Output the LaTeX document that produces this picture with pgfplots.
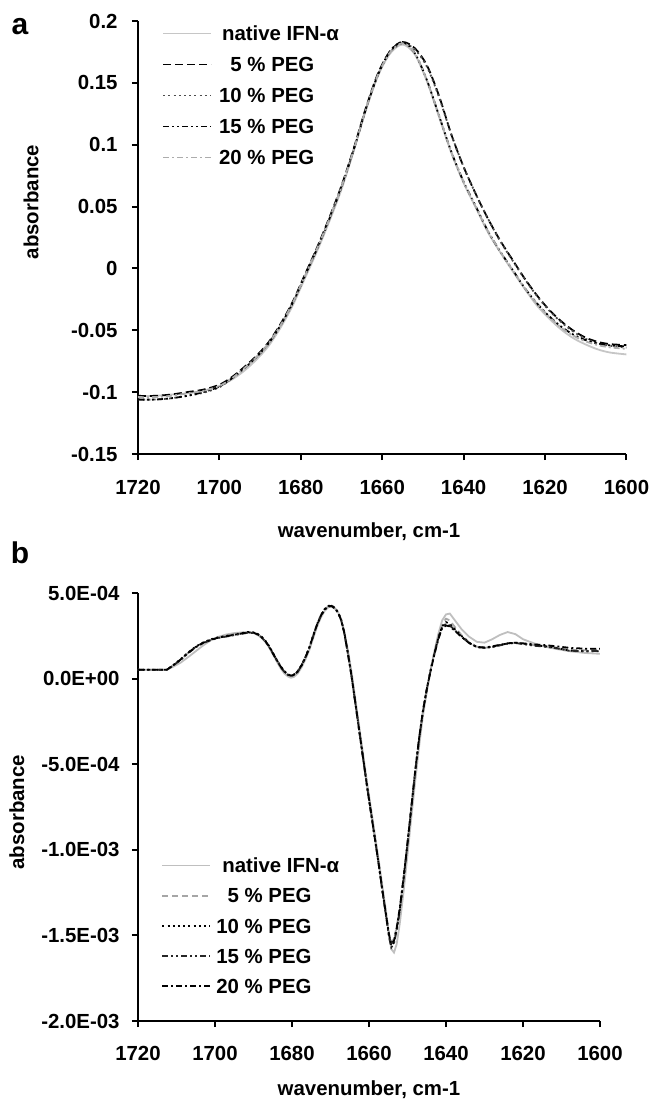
\documentclass[border=0pt]{standalone}
\usepackage{fontspec}
\setmainfont{Liberation Sans}
\usepackage{pgfplots}
\usepackage{pgfplotstable}
\pgfplotsset{compat=1.18}
\newcommand{\lf}{\bfseries\fontsize{10.2}{12}\selectfont}

\pgfplotstableread{
w     nat      p5       p10      p15      p20
1720 -0.103   -0.103   -0.106   -0.106   -0.104
1716 -0.103   -0.103   -0.106   -0.106   -0.104
1712 -0.102   -0.102   -0.105   -0.105   -0.103
1708 -0.101   -0.100   -0.103   -0.103   -0.101
1704 -0.099   -0.098   -0.1005  -0.100   -0.099
1700 -0.095   -0.094   -0.096   -0.0955  -0.095
1697 -0.090   -0.088   -0.089   -0.089   -0.089
1694 -0.083   -0.080   -0.081   -0.081   -0.081
1691 -0.074   -0.071   -0.072   -0.072   -0.072
1688 -0.063   -0.060   -0.061   -0.061   -0.061
1685 -0.048   -0.045   -0.046   -0.046   -0.046
1682 -0.030   -0.027   -0.028   -0.028   -0.028
1679 -0.008   -0.005   -0.006   -0.006   -0.006
1676  0.014    0.017    0.016    0.016    0.016
1673  0.038    0.041    0.040    0.040    0.040
1670  0.064    0.067    0.066    0.066    0.066
1667  0.095    0.097    0.096    0.096    0.096
1664  0.128    0.130    0.129    0.129    0.129
1661  0.156    0.158    0.157    0.157    0.157
1658  0.174    0.176    0.175    0.176    0.175
1655  0.181    0.183    0.182    0.183    0.182
1652  0.173    0.178    0.177    0.174    0.174
1649  0.151    0.164    0.163    0.152    0.152
1646  0.122    0.139    0.138    0.123    0.123
1643  0.093    0.108    0.108    0.094    0.094
1640  0.069    0.082    0.082    0.070    0.070
1637  0.049    0.060    0.060    0.050    0.0495
1634  0.029    0.040    0.040    0.030    0.030
1631  0.013    0.0224   0.022    0.0136   0.0136
1628 -0.002    0.007    0.0065  -0.001   -0.0012
1625 -0.0165  -0.0082  -0.0086  -0.0158  -0.016
1622 -0.030   -0.0218  -0.0222  -0.0282  -0.0285
1619 -0.0405  -0.0334  -0.034   -0.0386  -0.039
1616 -0.0495  -0.0428  -0.0435  -0.0472  -0.048
1613 -0.0565  -0.0504  -0.0512  -0.0536  -0.0545
1610 -0.0615  -0.056   -0.057   -0.058   -0.059
1607 -0.0655  -0.0594  -0.0605  -0.0607  -0.062
1604 -0.068   -0.0612  -0.0625  -0.0622  -0.0638
1600 -0.0695  -0.062   -0.064   -0.063   -0.065
}\topdata

\pgfplotstableread{
w       nat       p5        p10       p15       p20
1720    0.52e-4   0.52e-4   0.52e-4   0.52e-4   0.52e-4
1712.5  0.52e-4   0.52e-4   0.52e-4   0.52e-4   0.52e-4
1711    0.68e-4   0.75e-4   0.76e-4   0.74e-4   0.75e-4
1709    0.92e-4   1.10e-4   1.12e-4   1.08e-4   1.10e-4
1707    1.25e-4   1.50e-4   1.52e-4   1.48e-4   1.50e-4
1705    1.60e-4   1.85e-4   1.87e-4   1.83e-4   1.85e-4
1703    1.95e-4   2.10e-4   2.12e-4   2.08e-4   2.10e-4
1701    2.25e-4   2.28e-4   2.30e-4   2.26e-4   2.28e-4
1699    2.45e-4   2.40e-4   2.42e-4   2.38e-4   2.40e-4
1697    2.58e-4   2.48e-4   2.50e-4   2.46e-4   2.48e-4
1695    2.66e-4   2.56e-4   2.58e-4   2.54e-4   2.56e-4
1693    2.70e-4   2.64e-4   2.66e-4   2.62e-4   2.64e-4
1691.5  2.72e-4   2.70e-4   2.72e-4   2.68e-4   2.70e-4
1690    2.66e-4   2.68e-4   2.70e-4   2.66e-4   2.68e-4
1689    2.56e-4   2.60e-4   2.62e-4   2.58e-4   2.60e-4
1688    2.40e-4   2.45e-4   2.47e-4   2.43e-4   2.45e-4
1687    2.16e-4   2.22e-4   2.24e-4   2.20e-4   2.22e-4
1686    1.84e-4   1.90e-4   1.92e-4   1.88e-4   1.90e-4
1685    1.44e-4   1.50e-4   1.52e-4   1.48e-4   1.50e-4
1684    1.02e-4   1.10e-4   1.12e-4   1.08e-4   1.10e-4
1683    0.62e-4   0.72e-4   0.74e-4   0.70e-4   0.72e-4
1682    0.30e-4   0.42e-4   0.44e-4   0.40e-4   0.42e-4
1681    0.12e-4   0.22e-4   0.24e-4   0.20e-4   0.22e-4
1680.3  0.05e-4   0.17e-4   0.19e-4   0.15e-4   0.17e-4
1679.5  0.10e-4   0.22e-4   0.24e-4   0.20e-4   0.22e-4
1678.5  0.30e-4   0.42e-4   0.44e-4   0.40e-4   0.42e-4
1677.5  0.66e-4   0.78e-4   0.80e-4   0.76e-4   0.78e-4
1676.5  1.12e-4   1.25e-4   1.27e-4   1.23e-4   1.25e-4
1675.5  1.66e-4   1.80e-4   1.82e-4   1.78e-4   1.80e-4
1674.5  2.36e-4   2.50e-4   2.52e-4   2.48e-4   2.50e-4
1673.5  3.02e-4   3.15e-4   3.17e-4   3.13e-4   3.15e-4
1672.5  3.56e-4   3.68e-4   3.70e-4   3.66e-4   3.68e-4
1671.5  3.96e-4   4.05e-4   4.07e-4   4.03e-4   4.05e-4
1670.5  4.18e-4   4.23e-4   4.25e-4   4.21e-4   4.23e-4
1669.7  4.20e-4   4.25e-4   4.27e-4   4.23e-4   4.25e-4
1668.8  4.08e-4   4.10e-4   4.12e-4   4.08e-4   4.10e-4
1668    3.86e-4   3.85e-4   3.87e-4   3.83e-4   3.85e-4
1667.2  3.45e-4   3.40e-4   3.42e-4   3.38e-4   3.40e-4
1666.4  2.75e-4   2.65e-4   2.67e-4   2.63e-4   2.65e-4
1665.5  1.70e-4   1.50e-4   1.52e-4   1.48e-4   1.50e-4
1664.5  0.35e-4   0.10e-4   0.12e-4   0.08e-4   0.10e-4
1663.5 -1.25e-4  -1.50e-4  -1.48e-4  -1.52e-4  -1.50e-4
1662.5 -2.85e-4  -3.10e-4  -3.08e-4  -3.12e-4  -3.10e-4
1661.5 -4.45e-4  -4.70e-4  -4.68e-4  -4.72e-4  -4.70e-4
1660.5 -6.05e-4  -6.30e-4  -6.28e-4  -6.32e-4  -6.30e-4
1659.5 -7.55e-4  -7.80e-4  -7.78e-4  -7.82e-4  -7.80e-4
1658.5 -9.05e-4  -9.30e-4  -9.28e-4  -9.32e-4  -9.30e-4
1657.5 -10.55e-4 -10.80e-4 -10.80e-4 -10.82e-4 -10.80e-4
1656.5 -12.15e-4 -12.40e-4 -12.42e-4 -12.45e-4 -12.40e-4
1655.5 -13.70e-4 -13.90e-4 -13.95e-4 -14.00e-4 -13.90e-4
1654.8 -15.00e-4 -14.90e-4 -15.00e-4 -15.10e-4 -14.95e-4
1654.2 -15.80e-4 -15.40e-4 -15.60e-4 -15.70e-4 -15.50e-4
1653.5 -16.00e-4 -15.20e-4 -15.40e-4 -15.45e-4 -15.30e-4
1652.8 -15.50e-4 -14.50e-4 -14.65e-4 -14.70e-4 -14.55e-4
1652   -14.30e-4 -13.40e-4 -13.50e-4 -13.55e-4 -13.40e-4
1651   -12.40e-4 -11.60e-4 -11.65e-4 -11.70e-4 -11.60e-4
1650   -10.30e-4 -9.60e-4  -9.62e-4  -9.66e-4  -9.60e-4
1649   -8.10e-4  -7.50e-4  -7.52e-4  -7.55e-4  -7.50e-4
1648   -6.00e-4  -5.40e-4  -5.42e-4  -5.45e-4  -5.40e-4
1647   -4.00e-4  -3.50e-4  -3.52e-4  -3.55e-4  -3.50e-4
1646   -2.20e-4  -1.90e-4  -1.92e-4  -1.95e-4  -1.90e-4
1645   -0.80e-4  -0.60e-4  -0.62e-4  -0.65e-4  -0.62e-4
1644    0.50e-4   0.52e-4   0.48e-4   0.45e-4   0.45e-4
1643    1.60e-4   1.55e-4   1.48e-4   1.45e-4   1.42e-4
1642    2.60e-4   2.48e-4   2.38e-4   2.34e-4   2.30e-4
1641    3.40e-4   3.15e-4   3.05e-4   3.00e-4   2.95e-4
1640    3.75e-4   3.50e-4   3.30e-4   3.20e-4   3.10e-4
1639    3.80e-4   3.40e-4   3.20e-4   3.10e-4   3.05e-4
1638    3.50e-4   3.10e-4   2.95e-4   2.90e-4   2.85e-4
1636    2.90e-4   2.55e-4   2.50e-4   2.45e-4   2.45e-4
1634    2.45e-4   2.12e-4   2.10e-4   2.08e-4   2.08e-4
1632    2.15e-4   1.86e-4   1.85e-4   1.84e-4   1.85e-4
1630    2.10e-4   1.80e-4   1.80e-4   1.80e-4   1.82e-4
1628    2.30e-4   1.85e-4   1.86e-4   1.84e-4   1.88e-4
1626    2.55e-4   1.95e-4   1.96e-4   1.94e-4   1.98e-4
1624    2.72e-4   2.05e-4   2.06e-4   2.04e-4   2.06e-4
1622    2.60e-4   2.10e-4   2.10e-4   2.08e-4   2.10e-4
1620    2.30e-4   2.05e-4   2.04e-4   2.02e-4   2.06e-4
1617    2.05e-4   1.95e-4   1.94e-4   1.92e-4   2.00e-4
1614    1.85e-4   1.90e-4   1.88e-4   1.86e-4   1.95e-4
1611    1.72e-4   1.80e-4   1.78e-4   1.76e-4   1.88e-4
1608    1.60e-4   1.68e-4   1.64e-4   1.63e-4   1.80e-4
1604    1.50e-4   1.66e-4   1.60e-4   1.60e-4   1.75e-4
1600    1.45e-4   1.70e-4   1.60e-4   1.62e-4   1.75e-4
}\botdata

\pgfplotsset{
  common/.style={
    scale only axis,
    x dir=reverse, xmin=1600, xmax=1720,
    axis x line*=bottom, axis y line*=left,
    axis line style={line width=1pt,-},
    tick align=outside, major tick length=3pt,
    tick style={line width=1pt,black},
    xtick={1600,1620,1640,1660,1680,1700,1720},
    xticklabels={1600,1620,1640,1660,1680,1700,1720},
    ticklabel style={font=\lf, inner sep=0pt},
    label style={font=\lf},
    legend cell align=left,
    legend image code/.code={\draw[##1] (0pt,0.6pt) -- (24pt,0.6pt);},
    scaled y ticks=false,
  }
}

\begin{document}
\begin{tikzpicture}
\useasboundingbox (0,0) rectangle (325.5pt,-549.5pt);
\node[font=\bfseries\fontsize{15}{18}\selectfont, inner sep=0pt] at (10pt,-13.5pt) {a};
\node[font=\bfseries\fontsize{15}{18}\selectfont, inner sep=0pt] at (10pt,-276.5pt) {b};

\begin{axis}[common,
  width=244.25pt, height=216.5pt,
  at={(69pt,-227pt)}, anchor=south west,
  ymin=-0.15, ymax=0.2,
  ytick={-0.15,-0.1,-0.05,0,0.05,0.1,0.15,0.2},
  yticklabels={-0.15,-0.1,-0.05,0,0.05,0.1,0.15,0.2},
  xticklabel style={anchor=north, yshift=-10pt},
  yticklabel style={anchor=east, xshift=-7pt},
  xlabel={wavenumber, cm-1},
  xlabel style={at={(axis description cs:0.473,-0.18)}, anchor=center},
  ylabel={absorbance},
  ylabel style={at={(axis description cs:-0.219,0.582)}, anchor=center},
  legend style={draw=none, fill=none, at={(axis description cs:0.049,0.9926)}, anchor=north west,
    inner sep=0pt, row sep=5.5pt, font=\lf,
    nodes={inner sep=0pt, text height=8pt, text depth=2pt},
    /tikz/every odd column/.append style={column sep=3.5pt}},
]
\addplot[gray!45, line width=0.9pt, smooth] table[x=w,y=nat]{\topdata};
\addlegendentry{\hspace{1.5pt}native IFN-α}
\addplot[black, line width=0.9pt, dash pattern=on 4pt off 2pt, smooth] table[x=w,y=p5]{\topdata};
\addlegendentry{\phantom{1}5 \% PEG}
\addplot[black!70, line width=0.9pt, dash pattern=on 1pt off 1.6pt, smooth] table[x=w,y=p10]{\topdata};
\addlegendentry{10 \% PEG}
\addplot[black, line width=0.9pt, dash pattern=on 3pt off 1.5pt on 1pt off 1.5pt on 1pt off 1.5pt, smooth] table[x=w,y=p15]{\topdata};
\addlegendentry{15 \% PEG}
\addplot[gray!65, line width=0.9pt, dash pattern=on 3pt off 1.5pt on 1pt off 1.5pt, smooth] table[x=w,y=p20]{\topdata};
\addlegendentry{20 \% PEG}
\end{axis}

\begin{axis}[common,
  width=231pt, height=214pt,
  at={(69pt,-510.5pt)}, anchor=south west,
  ymin=-0.002, ymax=0.0005,
  ytick={-0.002,-0.0015,-0.001,-0.0005,0,0.0005},
  yticklabels={-2.0E-03,-1.5E-03,-1.0E-03,-5.0E-04,0.0E+00,5.0E-04},
  xticklabel style={anchor=north, yshift=-9.4pt},
  yticklabel style={anchor=east, xshift=-6pt},
  xlabel={wavenumber, cm-1},
  xlabel style={at={(axis description cs:0.5,-0.161)}, anchor=center},
  ylabel={absorbance},
  ylabel style={at={(axis description cs:-0.262,0.488)}, anchor=center},
  legend style={draw=none, fill=none, at={(axis description cs:0.05,0.385)}, anchor=north west,
    inner sep=0pt, row sep=5.1pt, font=\lf,
    nodes={inner sep=0pt, text height=8pt, text depth=2pt},
    /tikz/every odd column/.append style={column sep=2.5pt}},
]
\addplot[gray!50, line width=0.9pt] table[x=w,y=nat]{\botdata};
\addlegendentry{\hspace{3pt}native IFN-α}
\addplot[gray!70, line width=0.9pt, dash pattern=on 3pt off 2pt] table[x=w,y=p5]{\botdata};
\addlegendentry{\phantom{1}5 \% PEG}
\addplot[black, line width=0.9pt, dash pattern=on 1pt off 1.6pt] table[x=w,y=p10]{\botdata};
\addlegendentry{10 \% PEG}
\addplot[black!85, line width=0.9pt, dash pattern=on 3pt off 1.5pt on 1pt off 1.5pt on 1pt off 1.5pt] table[x=w,y=p15]{\botdata};
\addlegendentry{15 \% PEG}
\addplot[black, line width=0.9pt, dash pattern=on 3pt off 1.5pt on 1pt off 1.5pt] table[x=w,y=p20]{\botdata};
\addlegendentry{20 \% PEG}
\end{axis}
\end{tikzpicture}
\end{document}
